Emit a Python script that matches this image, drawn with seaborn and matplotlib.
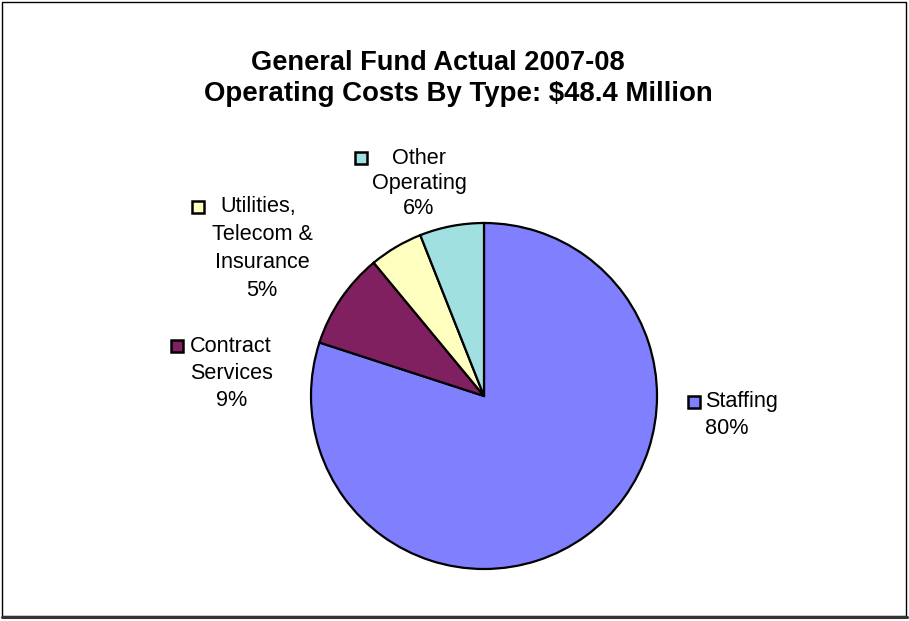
import matplotlib
matplotlib.use("Agg")
import matplotlib.pyplot as plt
from matplotlib.patches import Rectangle
import seaborn as sns

# Operating cost shares by type (percent of $48.4M)
categories = ["Staffing", "Contract Services", "Utilities, Telecom & Insurance", "Other Operating"]
shares = [80, 9, 5, 6]
label_lines = [
    ["Staffing", "80%"],
    ["Contract", "Services", "9%"],
    ["Utilities,", "Telecom &", "Insurance", "5%"],
    ["Other", "Operating", "6%"],
]
colors = ["#8080FF", "#802060", "#FFFFC0", "#A0E0E0"]
title_lines = ["General Fund Actual 2007-08", "Operating Costs By Type: $48.4 Million"]

sns.set_theme(style="white")
plt.rcParams["font.family"] = ["Liberation Sans", "DejaVu Sans"]

W, H = 909, 621
fig = plt.figure(figsize=(W / 100, H / 100), dpi=100)
fig.patch.set_facecolor("white")


def fx(px):
    return px / W


def fy(py):
    return 1 - py / H


# square axes holding the pie (pixel box, radius 173 around 484,396)
cx, cy, r = 484, 396, 173
ax = fig.add_axes([fx(cx - r), fy(cy + r), 2 * r / W, 2 * r / H])
ax.pie(shares, colors=colors, startangle=90, counterclock=False, radius=1.0,
       wedgeprops=dict(edgecolor="black", linewidth=1.6))
ax.set_xlim(-1, 1)
ax.set_ylim(-1, 1)
ax.set_aspect("auto")
ax.axis("off")

# chart frame
fig.add_artist(Rectangle((fx(2), fy(616)), fx(904), (614) / H, transform=fig.transFigure,
                         fill=False, edgecolor="black", linewidth=1.0))
fig.add_artist(plt.Line2D([fx(2), fx(907)], [fy(617), fy(617)], transform=fig.transFigure,
                          color="#333333", linewidth=2.2))

# title
fig.text(fx(438), fy(63), title_lines[0], ha="center", va="center",
         fontsize=19.6, fontweight="bold", color="black")
fig.text(fx(458), fy(94), title_lines[1], ha="center", va="center",
         fontsize=19.9, fontweight="bold", color="black")

# data labels with legend keys: (key center, first line center, other lines center x, y step)
layout = [
    dict(key=(694, 402), first=(742, 402), rest_x=727, step=27),
    dict(key=(177, 346), first=(231, 346), rest_x=232, step=27.5),
    dict(key=(198, 207), first=(258, 207), rest_x=262, step=27.7),
    dict(key=(361, 158), first=(419, 158), rest_x=419, step=25.5),
]
fs = 15.6
ks = 12
for lines, col, lay in zip(label_lines, colors, layout):
    kx, ky = lay["key"]
    fig.add_artist(Rectangle((fx(kx - ks / 2), fy(ky + ks / 2)), ks / W, ks / H,
                             transform=fig.transFigure, facecolor=col,
                             edgecolor="black", linewidth=1.8))
    x0, y0 = lay["first"]
    fig.text(fx(x0), fy(y0), lines[0], ha="center", va="center", fontsize=fs, color="black")
    for i, line in enumerate(lines[1:], start=1):
        fig.text(fx(lay["rest_x"]), fy(y0 + i * lay["step"]), line,
                 ha="center", va="center", fontsize=fs, color="black")

fig.savefig("out.png", dpi=100, facecolor="white")
